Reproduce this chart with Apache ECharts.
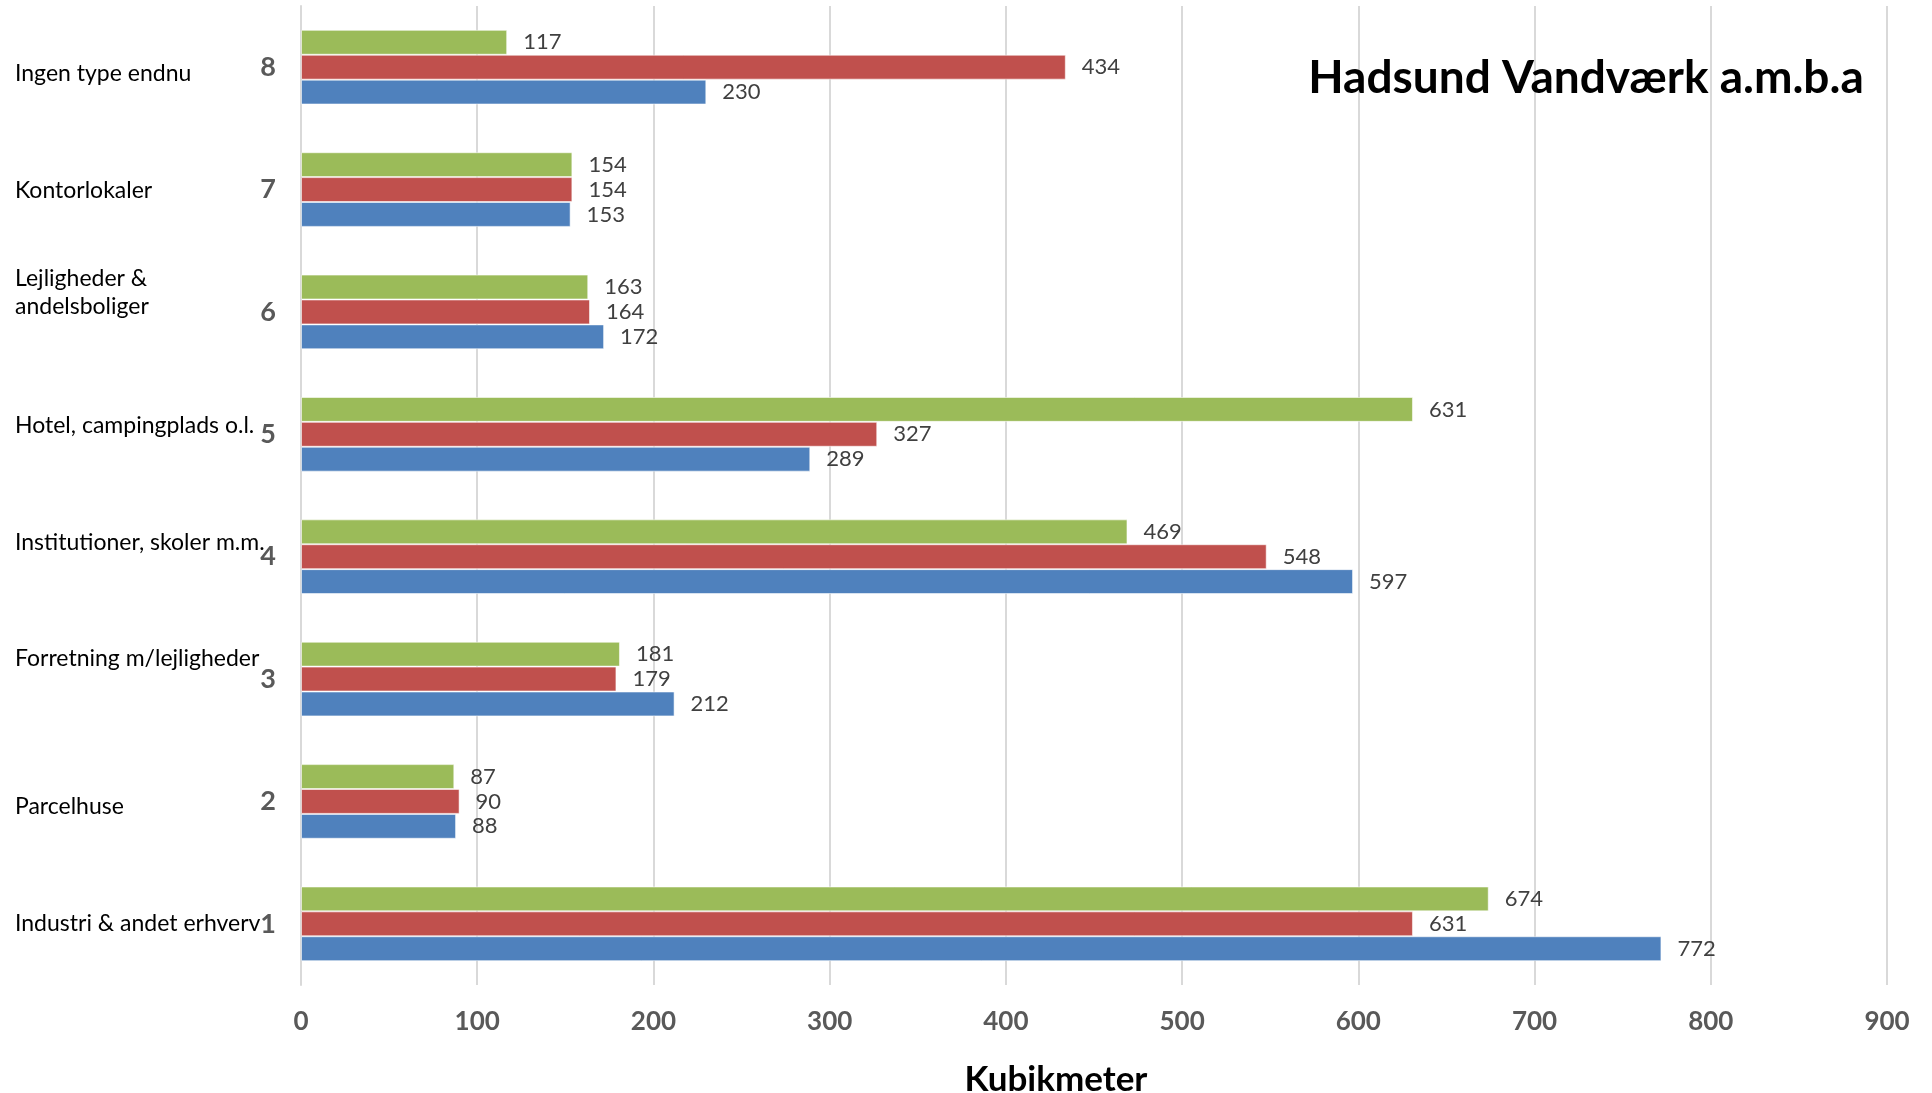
<!DOCTYPE html>
<html>
<head>
<meta charset="utf-8">
<script src="https://cdn.jsdelivr.net/npm/echarts@6/dist/echarts.min.js"></script>
<style>
  html, body { margin: 0; padding: 0; background: #fff; }
  #chart { width: 1932px; height: 1093px; }
</style>
</head>
<body>
<div id="chart"></div>
<script>
// categories, bottom to top
const categoryNumbers = ["1", "2", "3", "4", "5", "6", "7", "8"];
const categoryNames = [
  "Industri & andet erhverv",
  "Parcelhuse",
  "Forretning m/lejligheder",
  "Institutioner, skoler m.m.",
  "Hotel, campingplads o.l.",
  "Lejligheder &\nandelsboliger",
  "Kontorlokaler",
  "Ingen type endnu",
];
const blueValues = [772, 88, 212, 597, 289, 172, 153, 230];
const redValues = [631, 90, 179, 548, 327, 164, 154, 434];
const greenValues = [674, 87, 181, 469, 631, 163, 154, 117];
const xTicks = [0, 100, 200, 300, 400, 500, 600, 700, 800, 900];

// vertical nudge (px) of the name labels against the band centre
const nameShift = [0, 5, -20, -14, -9, -19, 1, 6];

const FONT = "'Lato', sans-serif";

const rich = { n: { fontSize: 23, lineHeight: 28, color: "#000", fontFamily: FONT } };
nameShift.forEach((d, i) => {
  rich["g" + i] = { fontSize: 1, lineHeight: Math.max(1, 2 * Math.abs(d)) };
});

function nameLabel(value, idx) {
  const lines = value.split("\n").map((ln) => "{n|" + ln + "}");
  const d = nameShift[idx];
  if (d > 0) lines.unshift("{g" + idx + "| }");
  if (d < 0) lines.push("{g" + idx + "| }");
  return lines.join("\n");
}

const chart = echarts.init(document.getElementById("chart"));

const valueLabel = {
  show: true,
  position: "right",
  distance: 16,
  color: "#404040",
  fontSize: 22,
  fontFamily: FONT,
};

function barSeries(name, data, color) {
  return {
    name,
    type: "bar",
    data,
    barGap: 0,
    barCategoryGap: "39%",
    itemStyle: { color, borderColor: "rgba(255,255,255,0.55)", borderWidth: 1 },
    label: valueLabel,
    emphasis: { disabled: true },
  };
}

chart.setOption({
  animation: false,
  textStyle: { fontFamily: FONT },
  title: {
    text: "Hadsund Vandværk a.m.b.a",
    left: 1581,
    top: 50,
    textAlign: "center",
    textStyle: { fontSize: 46, fontWeight: "bold", color: "#000", fontFamily: FONT },
  },
  grid: { left: 301, right: 45, top: 6, bottom: 108, outerBoundsMode: "none" },
  xAxis: {
    type: "value",
    min: xTicks[0],
    max: xTicks[xTicks.length - 1],
    interval: 100,
    name: "Kubikmeter",
    nameLocation: "middle",
    nameGap: 77,
    nameTextStyle: { fontSize: 35, fontWeight: "bold", color: "#000", fontFamily: FONT, padding: [0, 76, 0, 0] },
    axisLine: { show: false },
    axisTick: { show: false },
    axisLabel: { fontSize: 26, fontWeight: "bold", color: "#595959", margin: 24, fontFamily: FONT },
    splitLine: { show: true, lineStyle: { color: "#d9d9d9", width: 2 } },
  },
  yAxis: [
    {
      type: "category",
      data: categoryNumbers,
      axisLine: { show: true, lineStyle: { color: "#d9d9d9", width: 2 } },
      axisTick: { show: false },
      axisLabel: { fontSize: 27, fontWeight: "bold", color: "#595959", margin: 25, fontFamily: FONT },
    },
    {
      type: "category",
      position: "left",
      data: categoryNames,
      axisLine: { show: false },
      axisTick: { show: false },
      axisLabel: { align: "left", margin: 286, formatter: nameLabel, rich },
    },
  ],
  // first series sits on top of each band
  series: [
    barSeries("green", greenValues, "#9bbb59"),
    barSeries("red", redValues, "#c0504d"),
    barSeries("blue", blueValues, "#4f81bd"),
  ],
});
</script>
</body>
</html>
